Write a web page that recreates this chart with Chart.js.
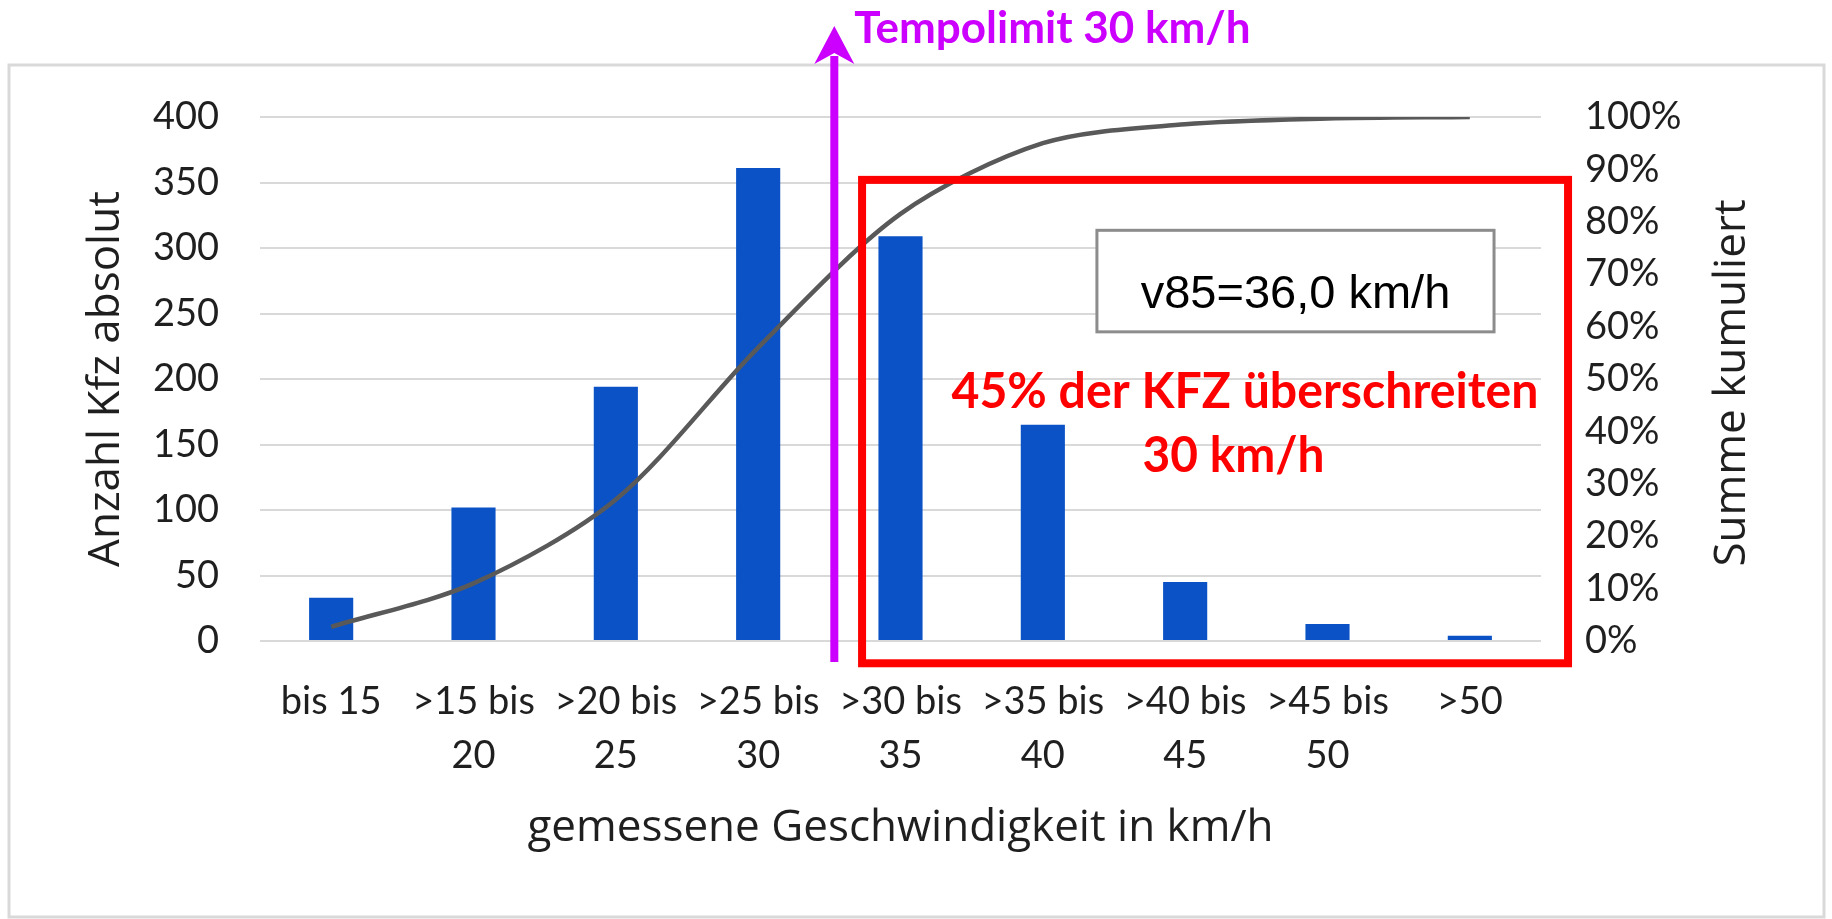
<!DOCTYPE html>
<html>
<head>
<meta charset="utf-8">
<script src="https://cdn.jsdelivr.net/npm/chart.js@4/dist/chart.umd.min.js"></script>
<style>
    html, body { margin: 0; padding: 0; background: #fff; }
    #wrap { width: 1832px; height: 919px; position: relative; }
</style>
</head>
<body>
<div id="wrap"><canvas id="speedChart"></canvas></div>
<script>
// Kategorien (Geschwindigkeitsklassen)
const categories = [
    ["bis 15"], [">15 bis", "20"], [">20 bis", "25"], [">25 bis", "30"],
    [">30 bis", "35"], [">35 bis", "40"], [">40 bis", "45"], [">45 bis", "50"], [">50"]
];

// Anzahl Kfz je Klasse
const counts = [33, 102, 194, 361, 309, 165, 45, 13, 4];

// Summe kumuliert in %
const cumulative = [2.7, 11, 27, 56, 81.5, 95, 98.6, 99.7, 100];

const leftTicks = [0, 50, 100, 150, 200, 250, 300, 350, 400];
const rightTicks = [0, 10, 20, 30, 40, 50, 60, 70, 80, 90, 100];

const limitText = "Tempolimit 30 km/h";
const v85Text = "v85=36,0 km/h";
const overLines = ["45% der KFZ überschreiten", "30 km/h"];
const rightTitle = "Summe kumuliert";

/* ===========================
   ZUSATZ-ELEMENTE
=========================== */

const extras = {
    id: "extras",
    beforeDraw(chart) {
        const ctx = chart.ctx;
        ctx.save();
        ctx.strokeStyle = "#d9d9d9";
        ctx.lineWidth = 3;
        ctx.strokeRect(9, 65, 1815, 852);
        ctx.restore();
    },
    afterDatasetsDraw(chart) {
        const { ctx, chartArea, scales: { x, y } } = chart;
        const px = v => x.getPixelForValue(v);
        const py = v => y.getPixelForValue(v);
        ctx.save();

        // roter Rahmen
        ctx.strokeStyle = "#ff0000";
        ctx.lineWidth = 8;
        ctx.strokeRect(px(3.73), py(352), px(8.69) - px(3.73), py(-17) - py(352));

        // v85 Box
        const bx = px(5.38), by = py(313.5);
        const bw = px(8.17) - bx, bh = py(236) - by;
        ctx.fillStyle = "#fff";
        ctx.fillRect(bx, by, bw, bh);
        ctx.strokeStyle = "#8c8c8c";
        ctx.lineWidth = 3;
        ctx.strokeRect(bx, by, bw, bh);
        ctx.fillStyle = "#000";
        ctx.font = "47px 'Liberation Sans', Arial, sans-serif";
        ctx.textAlign = "center";
        ctx.textBaseline = "alphabetic";
        ctx.fillText(v85Text, bx + bw / 2, py(254), 312);

        // rote Beschriftung
        ctx.fillStyle = "#ff0000";
        ctx.font = "bold 50px Lato, sans-serif";
        ctx.fillText(overLines[0], px(6.42), py(178), 587);
        ctx.fillText(overLines[1], px(6.34), py(129), 182);

        // Pfeil Tempolimit
        const ax = px(3.535);
        const top = chartArea.top - 91;
        ctx.strokeStyle = "#cc00ff";
        ctx.fillStyle = "#cc00ff";
        ctx.lineWidth = 8;
        ctx.beginPath();
        ctx.moveTo(ax, chartArea.bottom + 21);
        ctx.lineTo(ax, top + 30);
        ctx.stroke();
        ctx.beginPath();
        ctx.moveTo(ax, top);
        ctx.lineTo(ax - 20, top + 38);
        ctx.lineTo(ax, top + 27);
        ctx.lineTo(ax + 20, top + 38);
        ctx.closePath();
        ctx.fill();

        ctx.font = "bold 44px Lato, sans-serif";
        ctx.textAlign = "left";
        ctx.fillText(limitText, ax + 20, top + 17, 397);
        ctx.restore();
    },
    afterDraw(chart) {
        // rechter Achsentitel, von unten nach oben gelesen
        const { ctx, chartArea } = chart;
        ctx.save();
        ctx.translate(1732, (chartArea.top + chartArea.bottom) / 2 + 4);
        ctx.rotate(-Math.PI / 2);
        ctx.fillStyle = "#1f1f1f";
        ctx.font = "44px 'Open Sans', sans-serif";
        ctx.textAlign = "center";
        ctx.textBaseline = "middle";
        ctx.fillText(rightTitle, 0, 0);
        ctx.restore();
    }
};

/* ===========================
   DIAGRAMM
=========================== */

const tickFont = { family: "Lato, sans-serif", size: 38 };
const titleFont = { family: "'Open Sans', sans-serif", size: 44 };

new Chart(document.getElementById("speedChart"), {
    data: {
        labels: categories,
        datasets: [
            {
                type: "line",
                label: "Summe kumuliert",
                data: cumulative,
                yAxisID: "y1",
                borderColor: "#595959",
                borderWidth: 4.5,
                pointRadius: 0,
                tension: 0.3,
                order: 0
            },
            {
                type: "bar",
                label: "Anzahl Kfz",
                data: counts,
                yAxisID: "y",
                backgroundColor: "#0a52c6",
                barPercentage: 0.62,
                categoryPercentage: 0.5,
                order: 1
            }
        ]
    },
    options: {
        responsive: true,
        maintainAspectRatio: false,
        animation: false,
        layout: { padding: { top: 117, left: 0, right: 0, bottom: 0 } },
        plugins: { legend: { display: false }, tooltip: { enabled: false } },
        scales: {
            x: {
                grid: { display: false, drawTicks: false },
                border: { display: false },
                ticks: { color: "#1f1f1f", font: { ...tickFont, lineHeight: 1.42 }, padding: 34, maxRotation: 0, autoSkip: false },
                title: { display: true, text: "gemessene Geschwindigkeit in km/h", color: "#1f1f1f", font: titleFont, padding: { bottom: 64 } },
                afterFit: s => { s.height = 278; }
            },
            y: {
                position: "left",
                min: 0, max: 400,
                afterBuildTicks: s => { s.ticks = leftTicks.map(v => ({ value: v })); },
                grid: { color: "#d9d9d9", lineWidth: 2, drawTicks: false },
                border: { display: false },
                ticks: { color: "#1f1f1f", font: tickFont, padding: 41 },
                title: { display: true, text: "Anzahl Kfz absolut", color: "#1f1f1f", font: titleFont, padding: { top: 80 } },
                afterFit: s => { s.width = 260; }
            },
            y1: {
                position: "right",
                min: 0, max: 100,
                afterBuildTicks: s => { s.ticks = rightTicks.map(v => ({ value: v })); },
                grid: { display: false, drawTicks: false },
                border: { display: false },
                ticks: { color: "#1f1f1f", font: tickFont, padding: 44, callback: v => v + "%" },
                title: { display: false },
                afterFit: s => { s.width = 291; }
            }
        }
    },
    plugins: [extras]
});
</script>
</body>
</html>
